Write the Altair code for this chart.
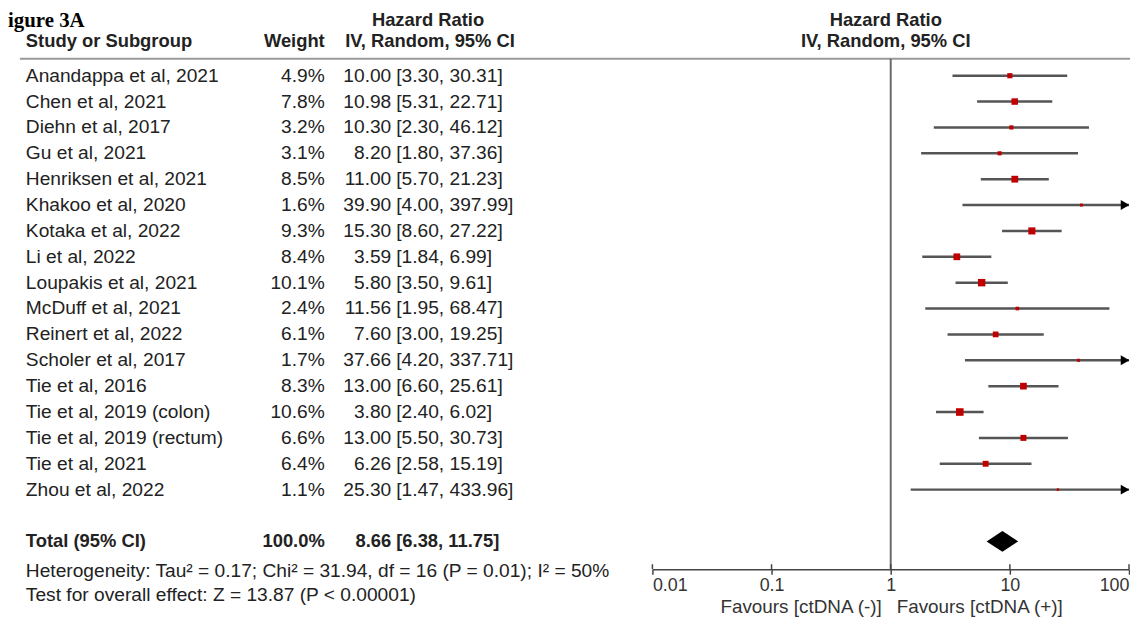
import altair as alt
import pandas as pd

# ---------------- data ----------------
studies = [
    "Anandappa et al, 2021", "Chen et al, 2021", "Diehn et al, 2017", "Gu et al, 2021",
    "Henriksen et al, 2021", "Khakoo et al, 2020", "Kotaka et al, 2022", "Li et al, 2022",
    "Loupakis et al, 2021", "McDuff et al, 2021", "Reinert et al, 2022", "Scholer et al, 2017",
    "Tie et al, 2016", "Tie et al, 2019 (colon)", "Tie et al, 2019 (rectum)", "Tie et al, 2021",
    "Zhou et al, 2022",
]
weights = [4.9, 7.8, 3.2, 3.1, 8.5, 1.6, 9.3, 8.4, 10.1, 2.4, 6.1, 1.7, 8.3, 10.6, 6.6, 6.4, 1.1]
hazard_ratio = [10.00, 10.98, 10.30, 8.20, 11.00, 39.90, 15.30, 3.59, 5.80, 11.56, 7.60, 37.66,
                13.00, 3.80, 13.00, 6.26, 25.30]
ci_low = [3.30, 5.31, 2.30, 1.80, 5.70, 4.00, 8.60, 1.84, 3.50, 1.95, 3.00, 4.20, 6.60, 2.40,
          5.50, 2.58, 1.47]
ci_high = [30.31, 22.71, 46.12, 37.36, 21.23, 397.99, 27.22, 6.99, 9.61, 68.47, 19.25, 337.71,
           25.61, 6.02, 30.73, 15.19, 433.96]

total_label = ["Total (95% CI)"]
total_weight = [100.0]
total_hr = [8.66]
total_low = [6.38]
total_high = [11.75]

heterogeneity_text = "Heterogeneity: Tau\u00b2 = 0.17; Chi\u00b2 = 31.94, df = 16 (P = 0.01); I\u00b2 = 50%"
overall_text = "Test for overall effect: Z = 13.87 (P < 0.00001)"
tick_values = [0.01, 0.1, 1, 10, 100]
null_value = [1]
favours_left = "Favours [ctDNA (-)]"
favours_right = "Favours [ctDNA (+)]"
figure_title = "igure 3A"   # as visible in the (cropped) reference
col_headers = ["Study or Subgroup", "Weight", "Hazard Ratio", "IV, Random, 95% CI"]

# ---------------- styling ----------------
FONT = "Liberation Sans"
FS = 19.3      # regular text
FSB = 18.5     # bold text
TXT = "#222222"
W, H = 1130, 563

study_df = pd.DataFrame({"study": studies, "weight": weights, "hr": hazard_ratio,
                         "lo": ci_low, "hi": ci_high})
study_df["row"] = list(range(len(studies)))
TOTAL_ROW = len(studies) + 1
total_df = pd.DataFrame({"study": total_label, "weight": total_weight, "hr": total_hr,
                         "lo": total_low, "hi": total_high})
total_df["row"] = [TOTAL_ROW]

xs = alt.Scale(type="log", domain=[0.01, 100], range=[649, 1129], clamp=True)
ys = alt.Scale(domain=[0, TOTAL_ROW], range=[66, 535])
AX = alt.Axis(
    values=tick_values, format="~g", title=None, grid=False, labelFlush=True,
    labelFont=FONT, labelFontSize=18, labelColor="#333333", labelPadding=2,
    domainColor="#444444", domainWidth=1.5, tickColor="#444444", tickWidth=1.5, tickSize=5)


def one(text):
    return pd.DataFrame({"t": [text]})


def label(text, x, y, align="left", bold=False, size=None, color=TXT, font=FONT, baseline="middle"):
    if size is None:
        size = FSB if bold else FS
    return alt.Chart(one(text)).mark_text(
        align=align, baseline=baseline, font=font, fontSize=size, color=color,
        fontWeight="bold" if bold else "normal",
    ).encode(x=alt.value(x), y=alt.value(y), text="t:N")


def row_text(data, expr, x, align, bold=False):
    return alt.Chart(data).transform_calculate(lab=expr).mark_text(
        align=align, baseline="middle", font=FONT, fontSize=FSB if bold else FS, color=TXT,
        fontWeight="bold" if bold else "normal",
    ).encode(x=alt.value(x), y=alt.Y("row:Q", scale=ys, axis=None), text="lab:N")


layers = []

# header
layers.append(label(figure_title, 0, 17, bold=True, size=21, color="#000000",
                    font="Liberation Serif", baseline="alphabetic"))
layers.append(label(col_headers[2], 423, 10, align="center", bold=True))
layers.append(label(col_headers[0], 18, 31, bold=True))
layers.append(label(col_headers[1], 319, 31, align="right", bold=True))
layers.append(label(col_headers[3], 425, 31, align="center", bold=True))
layers.append(label(col_headers[2], 884, 10, align="center", bold=True))
layers.append(label(col_headers[3], 884, 31, align="center", bold=True))

# header separator
layers.append(alt.Chart(one("line")).mark_rule(color="#9a9a9a", strokeWidth=2).encode(
    x=alt.value(12), x2=alt.value(W), y=alt.value(49)))

# null line
layers.append(alt.Chart(pd.DataFrame({"v": null_value})).mark_rule(color="#6a6a6a", strokeWidth=2).encode(
    x=alt.X("v:Q", scale=xs, axis=AX), y=alt.value(49), y2=alt.value(H)))

# study rows text
layers.append(row_text(study_df, "datum.study", 18, "left"))
layers.append(row_text(study_df, "format(datum.weight, '.1f') + '%'", 319, "right"))
layers.append(row_text(study_df, "format(datum.hr, '.2f')", 386, "right"))
layers.append(row_text(study_df, "'[' + format(datum.lo, '.2f') + ', ' + format(datum.hi, '.2f') + ']'", 391, "left"))

# total row text
layers.append(row_text(total_df, "datum.study", 18, "left", bold=True))
layers.append(row_text(total_df, "format(datum.weight, '.1f') + '%'", 319, "right", bold=True))
layers.append(row_text(total_df, "format(datum.hr, '.2f')", 386, "right", bold=True))
layers.append(row_text(total_df, "'[' + format(datum.lo, '.2f') + ', ' + format(datum.hi, '.2f') + ']'", 391, "left", bold=True))

# footer text
layers.append(label(heterogeneity_text, 18, 565))
layers.append(label(overall_text, 18, 589))
layers.append(label(favours_left, 880, 601, align="right", size=19, color="#333333"))
layers.append(label(favours_right, 895, 601, align="left", size=19, color="#333333"))

# CI lines
layers.append(alt.Chart(study_df).mark_rule(color="#555555", strokeWidth=2.5).encode(
    x=alt.X("lo:Q", scale=xs, axis=AX),
    x2="hi:Q",
    y=alt.Y("row:Q", scale=ys, axis=None),
))

# upward half of tick marks
layers.append(alt.Chart(pd.DataFrame({"v": tick_values})).mark_rule(color="#444444", strokeWidth=1.5).encode(
    x=alt.X("v:Q", scale=xs, axis=AX), y=alt.value(H - 5), y2=alt.value(H)))

# arrows for CI beyond the axis
layers.append(alt.Chart(study_df).transform_filter("datum.hi > 100").mark_point(
    shape="triangle-right", filled=True, color="#000000", size=100, opacity=1, xOffset=-4).encode(
    x=alt.X("hi:Q", scale=xs, axis=AX), y=alt.Y("row:Q", scale=ys, axis=None)))

# weight squares
layers.append(alt.Chart(study_df).mark_square(color="#c00000", opacity=1).encode(
    x=alt.X("hr:Q", scale=xs, axis=AX),
    y=alt.Y("row:Q", scale=ys, axis=None),
    size=alt.Size("weight:Q", scale=alt.Scale(domain=[0, 10], range=[0, 55]), legend=None),
))

# summary diamond
half = 0.4
diamond_df = pd.DataFrame({
    "x": [total_low[0], total_hr[0], total_high[0]],
    "y": [TOTAL_ROW, TOTAL_ROW - half, TOTAL_ROW],
    "y2": [TOTAL_ROW, TOTAL_ROW + half, TOTAL_ROW],
})
layers.append(alt.Chart(diamond_df).mark_area(color="#000000", orient="vertical", opacity=1).encode(
    x=alt.X("x:Q", scale=xs, axis=AX),
    y=alt.Y("y:Q", scale=ys, axis=None),
    y2="y2:Q",
))

chart = alt.layer(*layers).properties(
    width=W, height=H,
    padding={"left": 0, "top": 0, "right": 0, "bottom": 48},
    autosize=alt.AutoSizeParams(type="none"),
    background="#ffffff",
).configure_view(stroke=None)

chart.save("out.html", embed_options={"renderer": "svg", "actions": False})
